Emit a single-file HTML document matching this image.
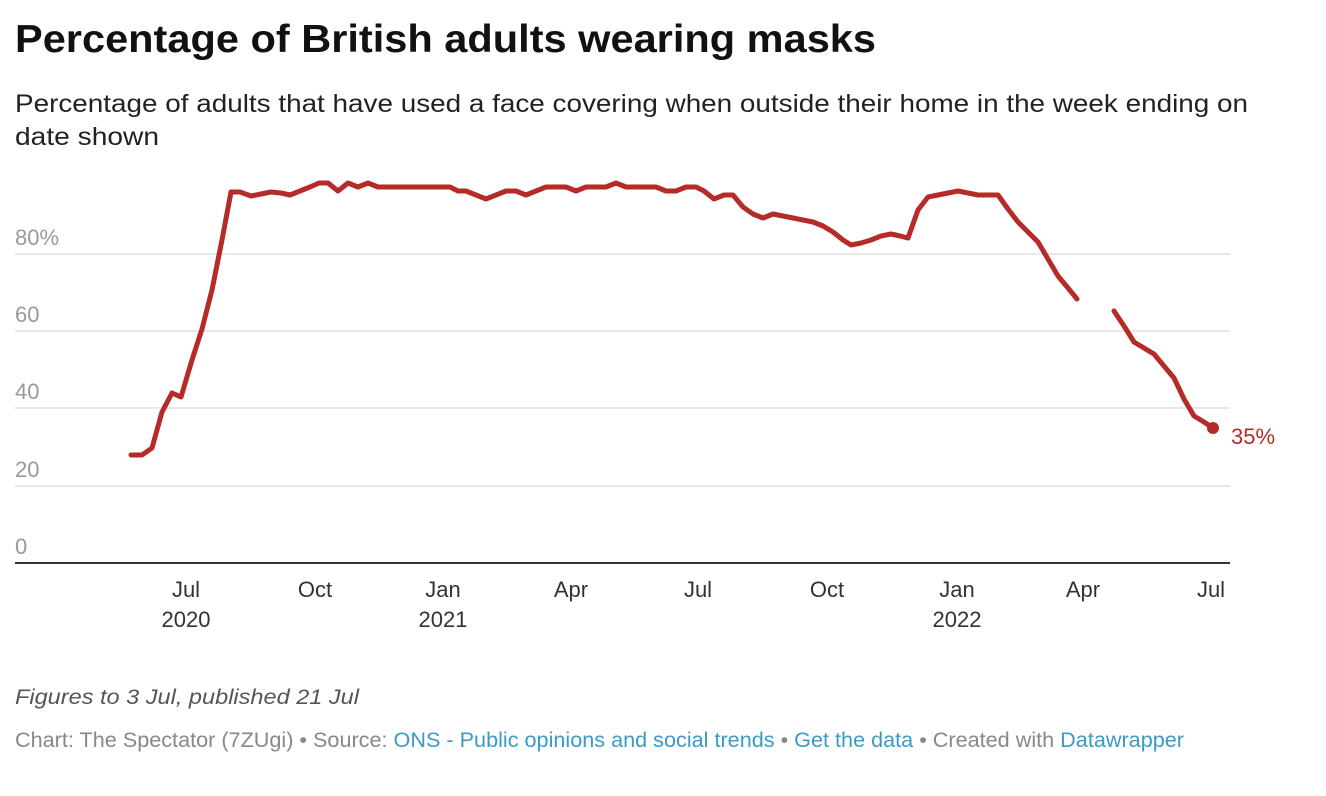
<!DOCTYPE html>
<html><head><meta charset="utf-8"><style>
body{margin:0;background:#fff;width:1326px;height:796px;overflow:hidden;font-family:"Liberation Sans",Arial,sans-serif;}
</style></head><body>
<svg width="1326" height="796" xmlns="http://www.w3.org/2000/svg" style="position:absolute;left:0;top:0;font-family:'Liberation Sans',Arial,sans-serif">
<text x="15" y="52" font-size="39" font-weight="bold" fill="#111" textLength="861" lengthAdjust="spacingAndGlyphs">Percentage of British adults wearing masks</text>
<text x="15" y="112" font-size="25" fill="#222" textLength="1233" lengthAdjust="spacingAndGlyphs">Percentage of adults that have used a face covering when outside their home in the week ending on</text>
<text x="15" y="145" font-size="25" fill="#222" textLength="144" lengthAdjust="spacingAndGlyphs">date shown</text>
<g stroke="#e0e0e0" stroke-width="1.5">
<line x1="15" x2="1230" y1="254" y2="254"/><line x1="15" x2="1230" y1="331" y2="331"/>
<line x1="15" x2="1230" y1="408" y2="408"/><line x1="15" x2="1230" y1="486" y2="486"/>
</g>
<line x1="15" x2="1230" y1="563" y2="563" stroke="#333" stroke-width="2"/>
<g font-size="22" fill="#999">
<text x="15" y="245">80%</text><text x="15" y="322">60</text><text x="15" y="399">40</text><text x="15" y="477">20</text><text x="15" y="554">0</text>
</g>
<g font-size="22" fill="#333" text-anchor="middle">
<text x="186" y="597">Jul</text><text x="186" y="627">2020</text>
<text x="315" y="597">Oct</text>
<text x="443" y="597">Jan</text><text x="443" y="627">2021</text>
<text x="571" y="597">Apr</text><text x="698" y="597">Jul</text><text x="827" y="597">Oct</text>
<text x="957" y="597">Jan</text><text x="957" y="627">2022</text>
<text x="1083" y="597">Apr</text><text x="1211" y="597">Jul</text>
</g>
<g fill="none" stroke="#b52b27" stroke-width="5" stroke-linejoin="round" stroke-linecap="round">
<polyline points="131,455 142,455 152,448 162,412 172,393 181,397 192,360 202,329 212,290 222,240 231,192 240,192 251,196 261,194 271,192 281,193 290,195 300,191 310,187 319,183 328,183 338,191 348,183 358,187 368,183 378,187 388,187 450,187 458,191 466,191 476,195 486,199 496,195 506,191 516,191 526,195 536,191 546,187 556,187 566,187 576,191 586,187 596,187 606,187 616,183 626,187 636,187 646,187 656,187 666,191 676,191 686,187 696,187 704,191 714,199 724,195 733,195 743,207 753,214 763,218 773,214 783,216 793,218 803,220 813,222 823,226 833,232 843,240 851,245 861,243 871,240 881,236 891,234 900,236 908,238 918,210 928,197 938,195 948,193 958,191 968,193 978,195 988,195 998,195 1008,209 1018,222 1028,232 1038,242 1048,259 1058,276 1068,288 1077,299"/>
<polyline points="1114,311 1124,326 1134,342 1144,348 1154,354 1164,366 1174,378 1184,399 1194,416 1204,422 1213,428"/>
</g>
<circle cx="1213" cy="428" r="6" fill="#b52b27"/>
<text x="1231" y="444" font-size="22" fill="#b52b27">35%</text>
<text x="15" y="704" font-size="21" font-style="italic" fill="#555" textLength="344" lengthAdjust="spacingAndGlyphs">Figures to 3 Jul, published 21 Jul</text>
<text x="15" y="747" font-size="21" fill="#888" textLength="1169" lengthAdjust="spacingAndGlyphs">Chart: The Spectator (7ZUgi) • Source: <tspan fill="#3c9ac8">ONS - Public opinions and social trends</tspan> • <tspan fill="#3c9ac8">Get the data</tspan> • Created with <tspan fill="#3c9ac8">Datawrapper</tspan></text>
</svg>
</body></html>
